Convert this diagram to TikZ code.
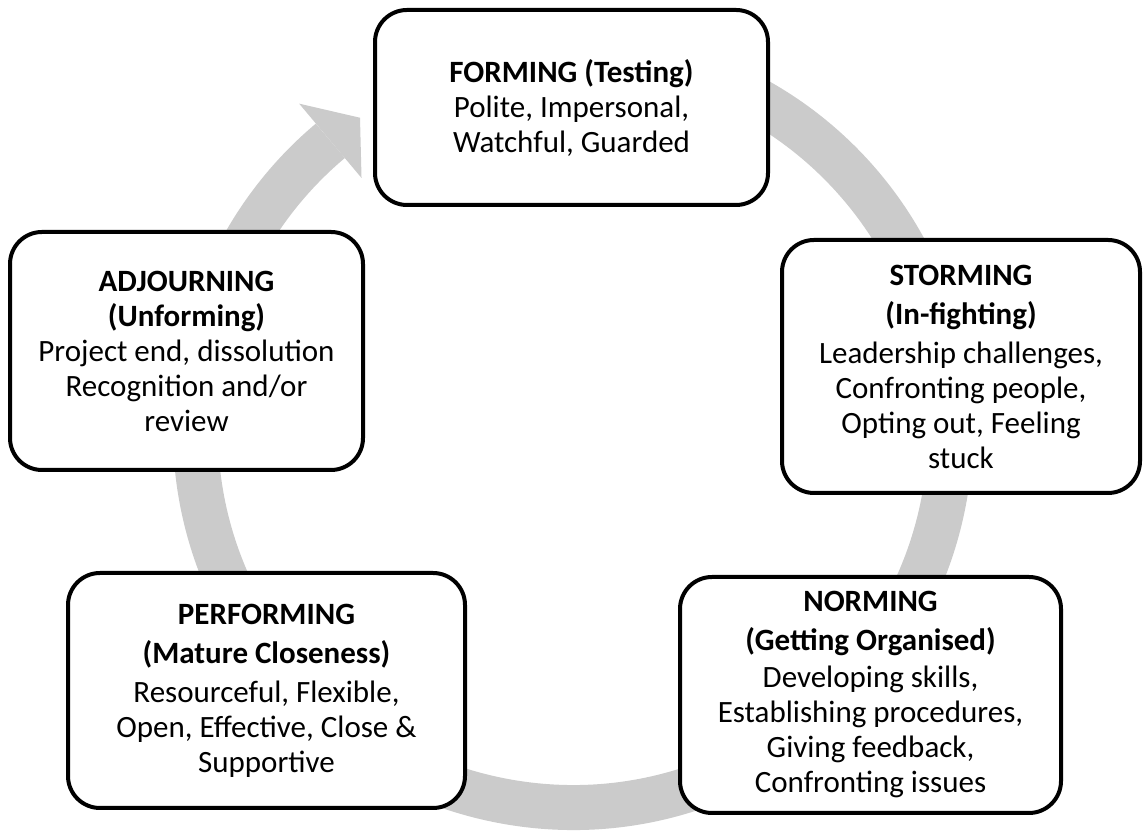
\documentclass[tikz,border=0pt]{standalone}
\usepackage{fontspec}
\setmainfont{Carlito}
\usetikzlibrary{calc}
\definecolor{ringgrey}{HTML}{CBCBCB}
\tikzstyle{stage}=[rectangle, rounded corners=16pt, draw=black, line width=2pt, fill=white, align=center, inner sep=0pt, anchor=center, font=\fontsize{15.5}{17.5}\selectfont]
\tikzstyle{ring}=[draw=ringgrey, line width=22.5pt]

\begin{document}
\begin{tikzpicture}[x=0.5pt, y=0.5pt]
	\useasboundingbox (0,0) rectangle (1144,833);
	\coordinate (hub) at (573,403);

	% grey cycle arrow, tail hidden under forming
	\draw[ring] ($(hub)+(80:377.5)$) arc[start angle=80, end angle=-230, radius=188.75pt];
	\fill[ringgrey] ($(hub)+(130:426)$) -- ($(hub)+(124.3:378)$) -- ($(hub)+(130:329)$) -- cycle;

	\node[stage, minimum width=196.5pt, minimum height=97.5pt](forming) at (571.5,725.5){\textbf{FORMING (Testing)}\\Polite, Impersonal,\\Watchful, Guarded};
	\node[stage, minimum width=179pt, minimum height=126.5pt](storming) at (961,466.5){\textbf{STORMING}\\[2pt]\textbf{(In-fighting)}\\[2pt]Leadership challenges,\\Confronting people,\\Opting out, Feeling\\stuck};
	\node[stage, minimum width=190.5pt, minimum height=118pt](norming) at (870.5,138){\textbf{NORMING}\\[2pt]\textbf{(Getting Organised)}\\[1pt]Developing skills,\\Establishing procedures,\\Giving feedback,\\Confronting issues};
	\node[stage, minimum width=198.5pt, minimum height=117.5pt](performing) at (266.5,142.5){\textbf{PERFORMING}\\[2pt]\textbf{(Mature Closeness)}\\[2pt]Resourceful, Flexible,\\Open, Effective, Close \&\\Supportive};
	\node[stage, minimum width=176.5pt, minimum height=119pt](adjourning) at (186.5,482){\textbf{ADJOURNING}\\\textbf{(Unforming)}\\Project end, dissolution\\Recognition and/or\\review};
\end{tikzpicture}
\end{document}
